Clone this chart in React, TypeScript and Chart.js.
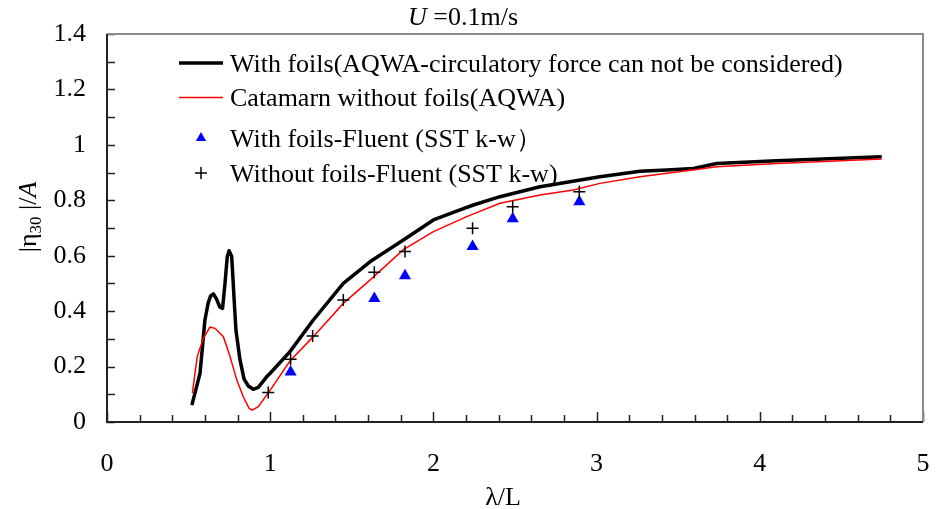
import React, { useEffect, useRef } from "react";
import { Chart, registerables } from "chart.js";

Chart.register(...registerables);

// AQWA, with foils (black curve)
const foilsAqwaX = [0.52, 0.57, 0.6, 0.62, 0.635, 0.652, 0.67, 0.692, 0.708, 0.723, 0.737, 0.748, 0.764, 0.77, 0.778, 0.79, 0.815, 0.84, 0.866, 0.896, 0.927, 0.978, 1.0, 1.121, 1.264, 1.448, 1.611, 1.816, 2.0, 2.163, 2.245, 2.408, 2.653, 3.02, 3.266, 3.43, 3.593, 3.736, 4.103, 4.747];
const foilsAqwaY = [0.061, 0.176, 0.368, 0.43, 0.455, 0.462, 0.445, 0.414, 0.41, 0.5, 0.597, 0.618, 0.597, 0.537, 0.452, 0.332, 0.224, 0.155, 0.13, 0.118, 0.125, 0.163, 0.176, 0.254, 0.368, 0.5, 0.578, 0.657, 0.729, 0.765, 0.783, 0.813, 0.849, 0.885, 0.905, 0.909, 0.915, 0.933, 0.943, 0.957];

// AQWA, catamaran without foils (red curve)
const bareAqwaX = [0.523, 0.553, 0.59, 0.631, 0.662, 0.713, 0.754, 0.795, 0.835, 0.87, 0.89, 0.927, 0.978, 1.0, 1.121, 1.264, 1.448, 1.611, 1.816, 2.0, 2.204, 2.408, 2.653, 2.857, 3.02, 3.266, 3.634, 3.736, 4.103, 4.747];
const bareAqwaY = [0.104, 0.236, 0.302, 0.342, 0.338, 0.308, 0.236, 0.152, 0.091, 0.05, 0.043, 0.055, 0.097, 0.115, 0.22, 0.308, 0.428, 0.512, 0.622, 0.687, 0.741, 0.789, 0.819, 0.837, 0.861, 0.885, 0.913, 0.921, 0.933, 0.949];

// Fluent (SST k-w), with foils
const foilsCfdX = [1.125, 1.638, 1.826, 2.24, 2.486, 2.894];
const foilsCfdY = [0.18, 0.446, 0.528, 0.633, 0.733, 0.795];

// Fluent (SST k-w), without foils
const bareCfdX = [0.988, 1.125, 1.26, 1.448, 1.638, 1.826, 2.24, 2.486, 2.894];
const bareCfdY = [0.106, 0.226, 0.31, 0.44, 0.54, 0.615, 0.699, 0.777, 0.831];

const legendLabels = [
  "With foils(AQWA-circulatory force can not be considered)",
  "Catamarn without foils(AQWA)",
  "With foils-Fluent (SST k-w）",
  "Without foils-Fluent (SST k-w)",
];

const SERIF = '"Liberation Serif", "Times New Roman", serif';

const pairs = (xs: number[], ys: number[]) => xs.map((x, i) => ({ x, y: ys[i] }));

type Seg = { t: string; size?: number; italic?: boolean; dy?: number };

function drawRich(ctx: CanvasRenderingContext2D, segs: Seg[], x: number, y: number, align: "left" | "center" | "right") {
  const fontOf = (s: Seg) => `${s.italic ? "italic " : ""}${s.size ?? 26}px ${SERIF}`;
  let total = 0;
  for (const s of segs) {
    ctx.font = fontOf(s);
    total += ctx.measureText(s.t).width;
  }
  let cx = align === "left" ? x : align === "center" ? x - total / 2 : x - total;
  ctx.textAlign = "left";
  ctx.textBaseline = "alphabetic";
  for (const s of segs) {
    ctx.font = fontOf(s);
    ctx.fillText(s.t, cx, y + (s.dy ?? 0));
    cx += ctx.measureText(s.t).width;
  }
}

const decorations = {
  id: "decorations",
  afterDatasetsDraw(chart: any) {
    const { ctx, chartArea: a, scales } = chart;
    const xs = scales.x;
    const ys = scales.y;
    ctx.save();

    // inward tick marks
    ctx.strokeStyle = "#222";
    ctx.lineWidth = 1.5;
    ctx.beginPath();
    for (const t of xs.ticks) {
      const px = Math.round(xs.getPixelForValue(t.value)) + 0.5;
      const major = Math.abs(t.value - Math.round(t.value)) < 1e-6;
      ctx.moveTo(px, a.bottom);
      ctx.lineTo(px, a.bottom - (major ? 10 : 7));
    }
    for (const t of ys.ticks) {
      const py = Math.round(ys.getPixelForValue(t.value)) + 0.5;
      ctx.moveTo(a.left, py);
      ctx.lineTo(a.left + 8, py);
    }
    ctx.stroke();

    // frame: grey top/right, dark left/bottom
    ctx.lineWidth = 2;
    ctx.strokeStyle = "#8c8c8c";
    ctx.beginPath();
    ctx.moveTo(a.left, a.top);
    ctx.lineTo(a.right, a.top);
    ctx.lineTo(a.right, a.bottom);
    ctx.stroke();
    ctx.strokeStyle = "#222";
    ctx.beginPath();
    ctx.moveTo(a.left, a.top);
    ctx.lineTo(a.left, a.bottom);
    ctx.lineTo(a.right, a.bottom);
    ctx.stroke();

    ctx.fillStyle = "#000";
    // heading
    drawRich(ctx, [{ t: "U", italic: true }, { t: " =0.1m/s" }], 518, 25, "right");
    // x title
    drawRich(ctx, [{ t: "λ/L" }], 503, 505, "center");
    // y title, rotated
    ctx.save();
    ctx.translate(36, 217);
    ctx.rotate(-Math.PI / 2);
    drawRich(ctx, [{ t: "|η" }, { t: "30", size: 17, dy: 5 }, { t: " |/" }, { t: "A", italic: true }], 0, 0, "center");
    ctx.restore();

    // legend
    const sx0 = 179;
    const sx1 = 223;
    const tx = 230;
    const rows = [63, 97.5, 138, 173];
    const base = [72, 106, 147, 182];
    ctx.lineCap = "butt";
    ctx.strokeStyle = "#000";
    ctx.lineWidth = 3.5;
    ctx.beginPath();
    ctx.moveTo(sx0, rows[0]);
    ctx.lineTo(sx1, rows[0]);
    ctx.stroke();
    ctx.strokeStyle = "#ff0000";
    ctx.lineWidth = 1.5;
    ctx.beginPath();
    ctx.moveTo(sx0, rows[1]);
    ctx.lineTo(sx1, rows[1]);
    ctx.stroke();
    const mx = (sx0 + sx1) / 2;
    // triangle symbol
    const r = 6;
    ctx.fillStyle = "#0000ff";
    ctx.beginPath();
    ctx.moveTo(mx, rows[2] - r);
    ctx.lineTo(mx + r * Math.sin(Math.PI / 3), rows[2] + r / 2);
    ctx.lineTo(mx - r * Math.sin(Math.PI / 3), rows[2] + r / 2);
    ctx.closePath();
    ctx.fill();
    // plus symbol
    ctx.strokeStyle = "#000";
    ctx.lineWidth = 1.5;
    ctx.beginPath();
    ctx.moveTo(mx - 6, rows[3]);
    ctx.lineTo(mx + 6, rows[3]);
    ctx.moveTo(mx, rows[3] - 6);
    ctx.lineTo(mx, rows[3] + 6);
    ctx.stroke();
    ctx.fillStyle = "#000";
    legendLabels.forEach((label, i) => drawRich(ctx, [{ t: label }], tx, base[i], "left"));

    ctx.restore();
  },
};

export default function App() {
  const canvasRef = useRef<HTMLCanvasElement | null>(null);

  useEffect(() => {
    const canvas = canvasRef.current;
    if (!canvas) return;
    const chart = new Chart(canvas, {
      type: "line",
      data: {
        datasets: [
          {
            label: legendLabels[3],
            data: pairs(bareCfdX, bareCfdY),
            showLine: false,
            pointStyle: "cross",
            pointRadius: 6,
            borderColor: "#000",
            borderWidth: 1.5,
            order: 0,
          },
          {
            label: legendLabels[2],
            data: pairs(foilsCfdX, foilsCfdY),
            showLine: false,
            pointStyle: "triangle",
            pointRadius: 7,
            backgroundColor: "#0000ff",
            borderColor: "#0000ff",
            borderWidth: 0,
            order: 1,
          },
          {
            label: legendLabels[1],
            data: pairs(bareAqwaX, bareAqwaY),
            borderColor: "#ff0000",
            borderWidth: 1.5,
            pointRadius: 0,
            tension: 0,
            order: 2,
          },
          {
            label: legendLabels[0],
            data: pairs(foilsAqwaX, foilsAqwaY),
            borderColor: "#000",
            borderWidth: 3.5,
            pointRadius: 0,
            tension: 0,
            borderJoinStyle: "round",
            order: 3,
          },
        ],
      },
      options: {
        responsive: false,
        animation: false,
        devicePixelRatio: 1,
        layout: { padding: { top: 34, right: 19, left: 0, bottom: 0 } },
        plugins: { legend: { display: false }, tooltip: { enabled: false }, title: { display: false } },
        scales: {
          x: {
            type: "linear",
            min: 0,
            max: 5,
            grid: { display: false, drawTicks: false },
            border: { display: false },
            ticks: {
              stepSize: 0.2,
              autoSkip: false,
              maxRotation: 0,
              padding: 27,
              color: "#000",
              font: { family: SERIF, size: 26 },
              callback: (v: any) => (Math.abs(v - Math.round(v)) < 1e-6 ? String(Math.round(v)) : ""),
            },
            afterFit: (s: any) => {
              s.height = 87;
              s.paddingLeft = 0;
              s.paddingRight = 0;
            },
          },
          y: {
            type: "linear",
            min: 0,
            max: 1.4,
            grid: { display: false, drawTicks: false },
            border: { display: false },
            ticks: {
              stepSize: 0.1,
              autoSkip: false,
              padding: 21,
              color: "#000",
              font: { family: SERIF, size: 26 },
              callback: (v: any) => (Math.round(v * 10) % 2 === 0 ? String(Number(v.toFixed(1))) : ""),
            },
            afterFit: (s: any) => {
              s.width = 107;
              s.paddingTop = 0;
              s.paddingBottom = 0;
            },
          },
        },
      },
      plugins: [decorations],
    });
    return () => chart.destroy();
  }, []);

  return (
    <div style={{ position: "absolute", left: 0, top: 0, width: 942, height: 509, background: "#fff" }}>
      <canvas ref={canvasRef} width={942} height={509} style={{ display: "block" }} />
    </div>
  );
}
